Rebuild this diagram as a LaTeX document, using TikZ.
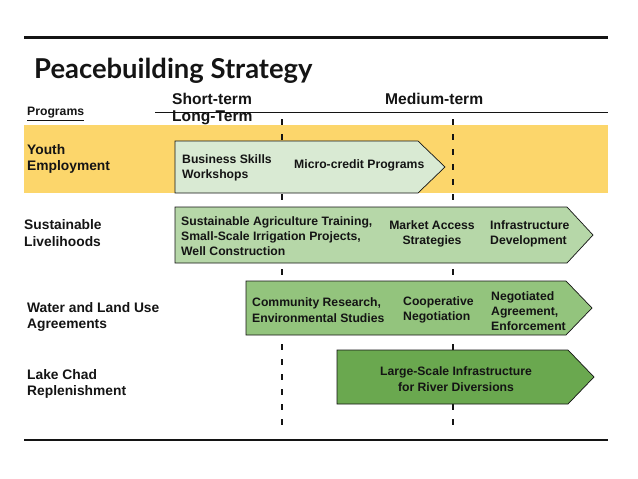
\documentclass[tikz,border=0pt]{standalone}
\usepackage{fontspec}
\setmainfont{Liberation Sans}
\newfontfamily\titlefont{Lato}
\definecolor{bandyellow}{RGB}{252,214,107}
\definecolor{gA}{RGB}{217,234,211}
\definecolor{gB}{RGB}{182,215,168}
\definecolor{gC}{RGB}{147,196,125}
\definecolor{gD}{RGB}{106,168,79}
\definecolor{ink}{RGB}{20,20,20}
\begin{document}
\begin{tikzpicture}[x=1pt,y=-1pt,
  arrowbox/.style={draw=ink,line width=0.7pt},
  boxtext/.style={font=\bfseries\fontsize{12.2}{15.3}\selectfont,inner sep=0pt,align=left,anchor=west,text=ink},
  ctrtext/.style={font=\bfseries\fontsize{12.2}{15.3}\selectfont,inner sep=0pt,align=center,text=ink},
  progtext/.style={font=\bfseries\fontsize{13.8}{16.5}\selectfont,inner sep=0pt,align=left,anchor=west,text=ink},
  headtext/.style={font=\bfseries\fontsize{15.6}{19}\selectfont,inner sep=0pt,anchor=west,text=ink},
  dashline/.style={draw=ink,line width=1.2pt,dash pattern=on 6pt off 9pt}]
\useasboundingbox (0,0) rectangle (638,479);
\fill[white] (0,0) rectangle (638,479);
% top and bottom rules
\draw[line width=3pt,ink] (24,37) -- (608,37);
\draw[line width=1.5pt,ink] (24,440) -- (608,440);
% title
\node[anchor=base west,inner sep=0pt,font=\titlefont\bfseries\fontsize{27.4}{31}\selectfont,text=ink] (title) at (34,78) {Peacebuilding Strategy};
% header
\node[inner sep=0pt,anchor=west,font=\bfseries\fontsize{12.2}{14}\selectfont,text=ink] (prog) at (27,114) {\underline{Programs}};
\node[headtext] (short) at (172,99) {Short-term};
\node[headtext] (medium) at (385,99) {Medium-term};
\node[headtext] (long) at (172,118) {Long-Term};
\draw[line width=1pt,ink] (155,112) -- (608,112);
% yellow band
\fill[bandyellow] (24,125) rectangle (608,193);
% dashed lines
\draw[dashline] (282,119) -- (282,432);
\draw[dashline] (453,119) -- (453,432);
% arrows
\draw[arrowbox,fill=gA] (175,141) -- (418,141) -- (445,167) -- (418,193) -- (175,193) -- cycle;
\draw[arrowbox,fill=gB] (175,207) -- (567,207) -- (593,235) -- (567,263) -- (175,263) -- cycle;
\draw[arrowbox,fill=gC] (246,281) -- (566,281) -- (592,308) -- (566,335) -- (246,335) -- cycle;
\draw[arrowbox,fill=gD] (337,350) -- (568,350) -- (594,377) -- (568,404) -- (337,404) -- cycle;
% program labels
\node[progtext] (youth) at (27,159) {Youth\\Employment};
\node[progtext] (sust) at (24,233) {Sustainable\\Livelihoods};
\node[progtext] (water) at (27,317) {Water and Land Use\\Agreements};
\node[progtext] (lake) at (27,384) {Lake Chad\\Replenishment};
% texts in arrows
\node[boxtext] (bsw) at (182,168) {Business Skills\\Workshops};
\node[boxtext] (mcp) at (294,165) {Micro-credit Programs};
\node[boxtext] (sat) at (181,236) {Sustainable Agriculture Training,\\Small-Scale Irrigation Projects,\\Well Construction};
\node[ctrtext] (mas) at (432,234) {Market Access\\Strategies};
\node[boxtext] (infd) at (490,234) {Infrastructure\\Development};
\node[boxtext] (crs) at (252,310) {Community Research,\\Environmental Studies};
\node[boxtext] (coop) at (403,310) {Cooperative\\Negotiation};
\node[boxtext] (nae) at (491,311) {Negotiated\\Agreement,\\Enforcement};
\node[ctrtext] (lsi) at (456,379) {Large-Scale Infrastructure\\for River Diversions};
\end{tikzpicture}
\end{document}
